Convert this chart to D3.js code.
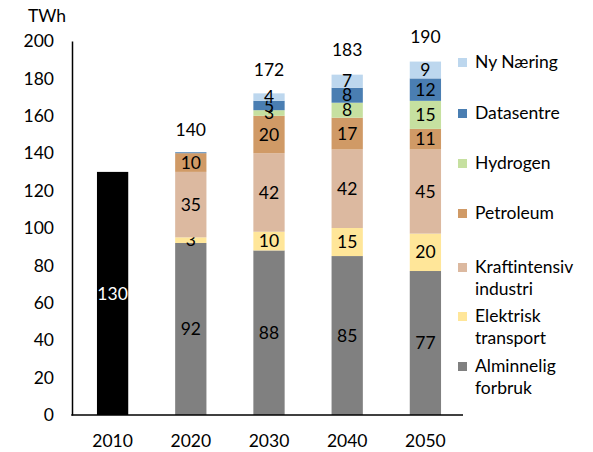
<!DOCTYPE html>
<html>
<head>
<meta charset="utf-8">
<script src="https://cdn.jsdelivr.net/npm/d3@7"></script>
<style>
  body { margin: 0; background: #fff; }
  text { font-family: Lato, "Open Sans", sans-serif; fill: #000; }
</style>
</head>
<body>
<svg></svg>
<script>
var width = 593, height = 452;
var fontSize = "17.5px";

// data
var years = ["2010", "2020", "2030", "2040", "2050"];
var historisk = [130, 0, 0, 0, 0];
var alminnelig = [0, 92, 88, 85, 77];
var elektrisk = [0, 3, 10, 15, 20];
var kraftintensiv = [0, 35, 42, 42, 45];
var petroleum = [0, 10, 20, 17, 11];
var hydrogen = [0, 0, 3, 8, 15];
var datasentre = [0, 0.5, 5, 8, 12];
var nyNaering = [0, 0, 4, 7, 9];
var totals = [null, 140, 172, 183, 190];
var yTicks = [0, 20, 40, 60, 80, 100, 120, 140, 160, 180, 200];

var series = [
  {key: "hist", name: null, values: historisk, color: "#000000", label: "#ffffff"},
  {key: "alm", name: ["Alminnelig", "forbruk"], values: alminnelig, color: "#808080"},
  {key: "el", name: ["Elektrisk", "transport"], values: elektrisk, color: "#ffe699"},
  {key: "kraft", name: ["Kraftintensiv", "industri"], values: kraftintensiv, color: "#dcb9a0"},
  {key: "pet", name: ["Petroleum"], values: petroleum, color: "#d09a66"},
  {key: "hyd", name: ["Hydrogen"], values: hydrogen, color: "#c6e0a0"},
  {key: "data", name: ["Datasentre"], values: datasentre, color: "#4a7eb2"},
  {key: "ny", name: ["Ny Næring"], values: nyNaering, color: "#bdd7ee"}
];

var rows = years.map(function(y, i) {
  var r = {year: y};
  series.forEach(function(s) { r[s.key] = s.values[i]; });
  return r;
});

var svg = d3.select("svg")
  .attr("width", width)
  .attr("height", height);

var x = d3.scaleBand()
  .domain(years)
  .range([73.5, 464.5])
  .paddingInner(0.6)
  .paddingOuter(0.3);

var y = d3.scaleLinear()
  .domain([0, 200])
  .range([415, 41]);

var stack = d3.stack().keys(series.map(function(s) { return s.key; }));
var stacked = stack(rows);

// bars
stacked.forEach(function(layer, li) {
  var s = series[li];
  var g = svg.append("g").attr("class", "layer_" + s.key);
  g.selectAll("rect")
    .data(layer)
    .enter()
    .append("rect")
    .attr("x", function(d) { return x(d.data.year); })
    .attr("width", x.bandwidth())
    .attr("y", function(d) { return y(d[1]); })
    .attr("height", function(d) { return y(d[0]) - y(d[1]); })
    .attr("fill", s.color);

  g.selectAll("text")
    .data(layer.filter(function(d) { return d[1] - d[0] >= 1; }))
    .enter()
    .append("text")
    .attr("x", function(d) { return x(d.data.year) + x.bandwidth() / 2; })
    .attr("y", function(d) { return y((d[0] + d[1]) / 2); })
    .attr("dy", "0.35em")
    .attr("text-anchor", "middle")
    .style("font-size", fontSize)
    .style("fill", s.label || "#000")
    .text(function(d) { return d[1] - d[0]; });
});

// totals above bars
svg.append("g").selectAll("text")
  .data(years.map(function(yr, i) { return {year: yr, total: totals[i]}; })
    .filter(function(d) { return d.total != null; }))
  .enter()
  .append("text")
  .attr("x", function(d) { return x(d.year) + x.bandwidth() / 2; })
  .attr("y", function(d) { return y(d.total) - 23; })
  .attr("dy", "0.35em")
  .attr("text-anchor", "middle")
  .style("font-size", fontSize)
  .text(function(d) { return d.total; });

// axes
var yAxis = svg.append("g")
  .attr("transform", "translate(72,0)")
  .call(d3.axisLeft(y).tickValues(yTicks).tickSize(0).tickPadding(18));
yAxis.select(".domain").attr("stroke", "#000").attr("stroke-width", 1.5);
yAxis.selectAll("text").style("font-size", fontSize).attr("font-family", null);

var xAxis = svg.append("g")
  .attr("transform", "translate(0,415)")
  .call(d3.axisBottom(x).tickSize(0).tickPadding(20));
xAxis.select(".domain").attr("d", "M71.25,0H463").attr("stroke", "#000").attr("stroke-width", 1.5);
xAxis.selectAll("text").style("font-size", fontSize).attr("font-family", null);

svg.append("text")
  .attr("x", 28)
  .attr("y", 22)
  .style("font-size", fontSize)
  .text("TWh");

// legend
var legendItems = series.filter(function(s) { return s.name; }).reverse();
var legendY = [62, 113, 163, 213, 267, 316, 366];
var legend = svg.append("g");
legendItems.forEach(function(s, i) {
  var ly = legendY[i];
  legend.append("rect")
    .attr("x", 458)
    .attr("y", ly - 4)
    .attr("width", 9)
    .attr("height", 9)
    .attr("fill", s.color);
  s.name.forEach(function(line, j) {
    legend.append("text")
      .attr("x", 475)
      .attr("y", ly + j * 22)
      .attr("dy", "0.35em")
      .style("font-size", fontSize)
      .text(line);
  });
});
</script>
</body>
</html>
